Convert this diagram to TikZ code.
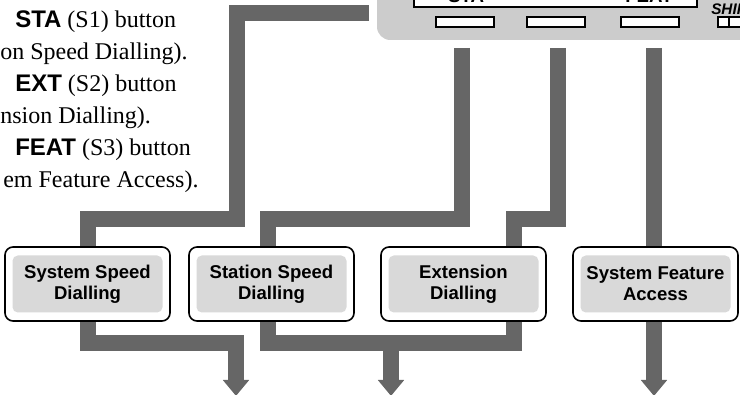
\documentclass[tikz,border=0pt]{standalone}
\usepackage{fontspec}
\setmainfont{Liberation Serif}
\setsansfont{Liberation Sans}
\usepackage{tikz}
\usetikzlibrary{arrows.meta, positioning, calc, backgrounds}
\usepackage{xcolor}
\definecolor{bargray}{HTML}{666666}
\definecolor{phonegray}{HTML}{CCCCCC}
\definecolor{labelgray}{HTML}{D9D9D9}

\begin{document}
\begin{tikzpicture}[x=0.75pt, y=-0.75pt,
      bar/.style={draw=bargray, line width=12pt},
      barend/.style={bar, -{Triangle[width=19pt, length=12pt]}},
      featbox/.style={draw, line width=1.2pt, fill=white, rounded corners=6pt,
                      minimum width=123.75pt, minimum height=55.5pt},
      featlabel/.style={fill=labelgray, rounded corners=4pt, inner sep=0pt,
                        minimum width=112.5pt, minimum height=42.75pt, align=center,
                        font=\fontsize{13.9}{15.75}\selectfont\sffamily\bfseries},
      softkey/.style={draw, line width=1.1pt, fill=white, inner sep=0pt,
                      minimum width=43.5pt, minimum height=7.5pt},
      intro/.style={font=\fontsize{18}{24}\selectfont, inner sep=0pt, anchor=base west}
    ]
      \useasboundingbox (0,0) rectangle (740,395);

      % Phone panel
      \fill[phonegray, rounded corners=10pt] (377,-30) rectangle (770,40);
      \draw[line width=1.5pt, fill=white] (414,-30) rectangle (697,7);
      \node[anchor=base, inner sep=0pt, font=\fontsize{14}{14}\selectfont\sffamily\bfseries]
        (dspA) at (466,3) {STA};
      \node[anchor=base, inner sep=0pt, font=\fontsize{14}{14}\selectfont\sffamily\bfseries]
        (dspC) at (649,3) {FEAT};
      \node[softkey] (keyS1) at (465,22) {};
      \node[softkey] (keyS2) at (556,22) {};
      \node[softkey] (keyS3) at (650,22) {};
      \node[anchor=base west, inner sep=0pt,
            font=\fontsize{11.5}{11.5}\selectfont\sffamily\bfseries\itshape]
        (shift) at (711,15) {SHIF};
      \draw[line width=1.1pt, fill=white] (718,17) rectangle (750,27);
      \draw[line width=1.1pt] (729,17) -- (729,27);

      % Instructions
      \node[intro] (ln1) at (15,28)  {\textsf{\bfseries STA} (S1) button};
      \node[intro] (ln2) at (0,60)   {on Speed Dialling).};
      \node[intro] (ln3) at (15,92)  {\textsf{\bfseries EXT} (S2) button};
      \node[intro] (ln4) at (0,124)  {nsion Dialling).};
      \node[intro] (ln5) at (15,156) {\textsf{\bfseries FEAT} (S3) button};
      \node[intro] (ln6) at (3,188)  {em Feature Access).};

      % Feature boxes
      \node[featbox] (box1) at (87.5,284) {};
      \node[featlabel] (lab1) at (box1) {System Speed\\Dialling};
      \node[featbox] (box2) at (271.5,284) {};
      \node[featlabel] (lab2) at (box2) {Station Speed\\Dialling};
      \node[featbox] (box3) at (463.5,284) {};
      \node[featlabel] (lab3) at (box3) {Extension\\Dialling};
      \node[featbox] (box4) at (655.5,284) {};
      \node[featlabel] (lab4) at (box4) {System Feature\\Access};

      % Flow bars
      \coordinate (tapA) at (369,13);
      \coordinate (elbA) at (237,219);
      \coordinate (srcS1) at (462,48);
      \coordinate (srcS2) at (558,48);
      \coordinate (srcS3) at (654,48);
      \coordinate (elbB) at (268,219);
      \coordinate (elbC) at (514,219);
      \coordinate (mrgA) at (236,343);
      \coordinate (mrgB) at (391,343);
      \coordinate (tipA) at (236,396);
      \coordinate (tipB) at (391,396);
      \coordinate (tipC) at (654,396);

      \begin{scope}[on background layer]
        \draw[bar] (tapA) -| (elbA) -| (box1.north);
        \draw[bar] (srcS1) |- (elbB) -- (elbB |- box2.north);
        \draw[bar] (srcS2) |- (elbC) -- (elbC |- box3.north);
        \draw[bar] (srcS3) -- (srcS3 |- box4.north);
        \draw[barend] (box1.south) |- (mrgA) -- (tipA);
        \draw[barend] (elbB |- box2.south) |- (mrgB) -- (tipB);
        \draw[bar] (elbC |- box3.south) |- (mrgB);
        \draw[barend] (srcS3 |- box4.south) -- (tipC);
      \end{scope}
    \end{tikzpicture}
\end{document}
